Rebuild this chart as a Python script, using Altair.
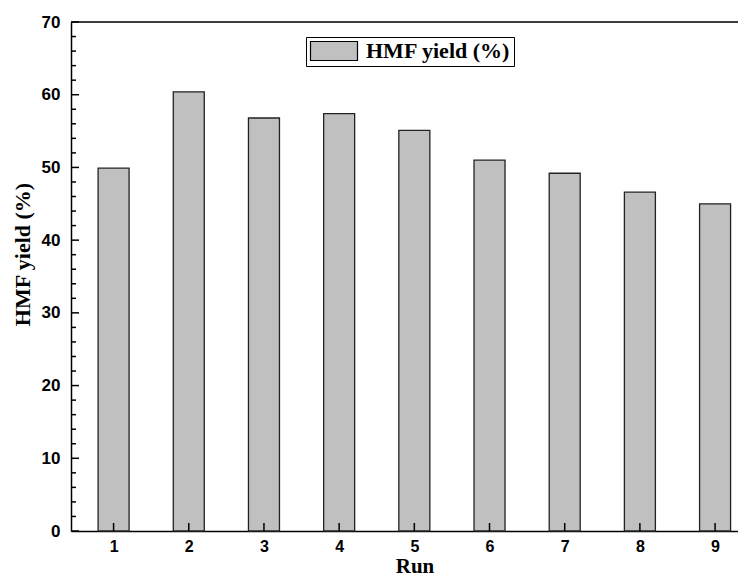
import altair as alt
import pandas as pd

runs = [1, 2, 3, 4, 5, 6, 7, 8, 9]
hmf_yield = [49.9, 60.4, 56.8, 57.4, 55.1, 51.0, 49.2, 46.6, 45.0]
series_name = "HMF yield (%)"
y_major = [0, 10, 20, 30, 40, 50, 60, 70]
y_minor = [v for v in range(0, 71, 2) if v % 10 != 0]

bars_df = pd.DataFrame({"run": runs, "yield": hmf_yield, "series": [series_name] * len(runs)})
ymaj_df = pd.DataFrame({"v": y_major})
ymin_df = pd.DataFrame({"v": y_minor})
xt_df = pd.DataFrame({"run": runs})

W, H = 667, 509
STEP = 76.33
xscale = alt.Scale(domain=[0.5, 0.5 + W / STEP], nice=False, zero=False)
yscale = alt.Scale(domain=[0, 70], nice=False)

x_axis = alt.Axis(
    values=runs, format="d", tickSize=0, grid=False, labelPadding=7,
    labelFont="Liberation Sans", labelFontWeight="bold", labelFontSize=16, labelColor="black",
    domainColor="black", domainWidth=1.5,
    title="Run", titleFont="Liberation Serif", titleFontWeight="bold", titleFontSize=21,
    titleColor="black", titleX=9 * STEP / 2, titleY=41, titleBaseline="alphabetic", titleAlign="center",
)
y_axis = alt.Axis(
    values=y_major, tickSize=0, grid=False, labelPadding=11,
    labelFont="Liberation Sans", labelFontWeight="bold", labelFontSize=17, labelColor="black",
    domainColor="black", domainWidth=1.5,
    title=series_name, titleFont="Liberation Serif", titleFontWeight="bold", titleFontSize=22,
    titleColor="black", titleAngle=270, titleX=-49, titleY=232, titleAlign="center",
    titleBaseline="middle",
)

bars = alt.Chart(bars_df).mark_bar(size=31, stroke="#222222", strokeWidth=1.3).encode(
    x=alt.X("run:Q", scale=xscale, axis=x_axis),
    y=alt.Y("yield:Q", scale=yscale, axis=y_axis),
    color=alt.Color(
        "series:N",
        scale=alt.Scale(range=["#c0c0c0"]),
        legend=alt.Legend(
            title=None, orient="none", legendX=235, legendY=15,
            strokeColor="black", fillColor="white", padding=3, cornerRadius=0,
            symbolType="M-1,-1H3.947V1H-1Z", symbolSize=361,
            symbolStrokeColor="black", symbolStrokeWidth=1.2,
            labelFont="Liberation Serif", labelFontWeight="bold", labelFontSize=22,
            labelColor="black", labelOffset=35,
        ),
    ),
)

ymaj = alt.Chart(ymaj_df).mark_rule(color="black", strokeWidth=1.5).encode(
    y=alt.Y("v:Q", scale=yscale), x=alt.value(0), x2=alt.value(8)
)
ymin = alt.Chart(ymin_df).mark_rule(color="black", strokeWidth=1.5).encode(
    y=alt.Y("v:Q", scale=yscale), x=alt.value(0), x2=alt.value(5)
)
xt = alt.Chart(xt_df).mark_rule(color="black", strokeWidth=1.5).encode(
    x=alt.X("run:Q", scale=xscale), y=alt.value(H), y2=alt.value(H - 8)
)
top_line = alt.Chart(ymaj_df.head(1)).mark_rule(color="black", strokeWidth=1.5).encode(
    x=alt.value(0), x2=alt.value(W), y=alt.value(0)
)

chart = alt.layer(bars, ymaj, ymin, xt, top_line).properties(
    width=W, height=H,
    autosize=alt.AutoSizeParams(type="none"),
    padding={"left": 63, "top": 14, "right": 0, "bottom": 47},
).configure_view(stroke=None).configure(background="white")

chart.save("out.html", embed_options={"renderer": "svg", "actions": False})
